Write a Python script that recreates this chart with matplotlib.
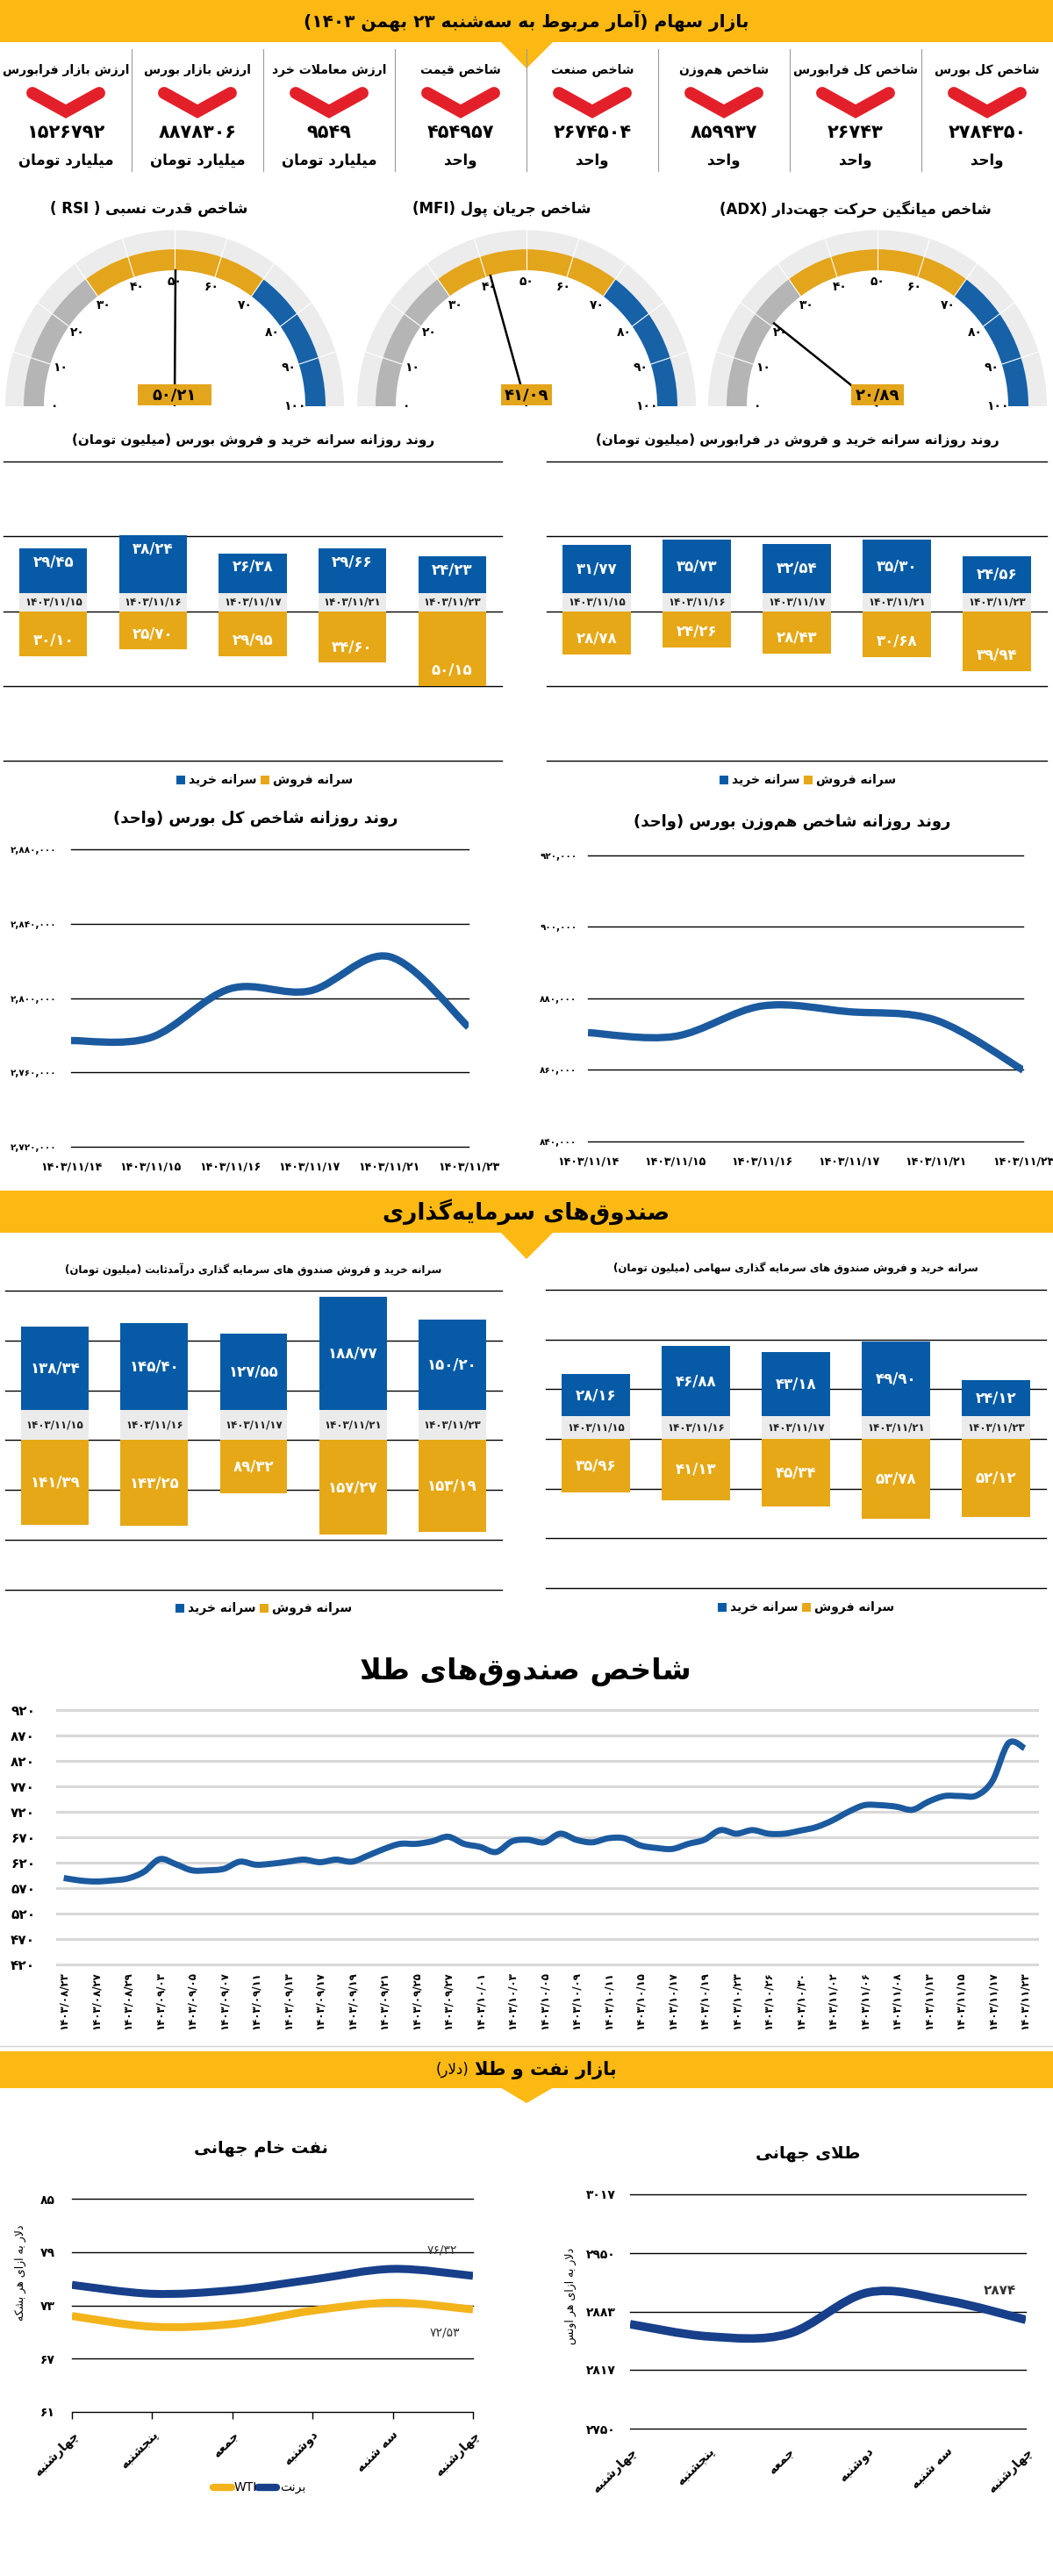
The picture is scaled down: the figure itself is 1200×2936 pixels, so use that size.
import numpy as np
import matplotlib
matplotlib.use("Agg")
import matplotlib.pyplot as plt
from matplotlib.patches import Rectangle, Polygon, Wedge, PathPatch
from matplotlib.path import Path

plt.rcParams['font.family'] = ['DejaVu Sans']

# ---------------- data ----------------
stat_labels = ['شاخص کل بورس', 'شاخص کل فرابورس', 'شاخص هم‌وزن', 'شاخص صنعت',
               'شاخص قیمت', 'ارزش معاملات خرد', 'ارزش بازار بورس', 'ارزش بازار فرابورس']
stat_values = [2784350, 26743, 859937, 2674504, 454957, 9549, 8878306, 1526792]
stat_units = ['واحد', 'واحد', 'واحد', 'واحد', 'واحد',
              'میلیارد تومان', 'میلیارد تومان', 'میلیارد تومان']

gauge_titles = ['شاخص قدرت نسبی ( RSI )', 'شاخص جریان پول (MFI)', 'شاخص میانگین حرکت جهت‌دار (ADX)']
gauge_values = [50.21, 41.09, 20.89]

dates5 = ['1403/11/15', '1403/11/16', '1403/11/17', '1403/11/21', '1403/11/23']
bourse_buy = [29.45, 38.24, 26.38, 29.66, 24.23]
bourse_sell = [30.10, 25.70, 29.95, 34.60, 50.15]
fara_buy = [31.77, 35.73, 32.54, 35.30, 24.56]
fara_sell = [28.78, 24.26, 28.43, 30.68, 39.94]
fixed_buy = [138.34, 145.40, 127.55, 188.77, 150.20]
fixed_sell = [141.39, 143.25, 89.32, 157.27, 153.19]
equity_buy = [28.16, 46.88, 43.18, 49.90, 24.12]
equity_sell = [35.96, 41.13, 45.34, 53.78, 52.12]

idx_dates = ['1403/11/14', '1403/11/15', '1403/11/16', '1403/11/17', '1403/11/21', '1403/11/23']
total_index = [2777100, 2778700, 2805000, 2803800, 2822300, 2784350]
equal_index = [870450, 869400, 877900, 876300, 873900, 859937]

gold_fund = [590, 585, 583, 585, 589, 602, 627, 617, 605, 605, 608, 622, 616, 618, 622,
             626, 621, 626, 622, 634, 647, 657, 657, 662, 671, 657, 651, 641, 662, 665,
             660, 677, 665, 660, 668, 668, 654, 649, 647, 657, 665, 684, 677, 684, 677,
             677, 683, 690, 703, 720, 733, 733, 730, 724, 740, 751, 751, 752, 781, 855, 845]
gold_dates = ['1403/08/23', '1403/08/27', '1403/08/29', '1403/09/03', '1403/09/05', '1403/09/07',
              '1403/09/11', '1403/09/13', '1403/09/17', '1403/09/19', '1403/09/21', '1403/09/25',
              '1403/09/27', '1403/10/01', '1403/10/03', '1403/10/05', '1403/10/09', '1403/10/11',
              '1403/10/15', '1403/10/17', '1403/10/19', '1403/10/23', '1403/10/26', '1403/10/30',
              '1403/11/02', '1403/11/06', '1403/11/08', '1403/11/13', '1403/11/15', '1403/11/17',
              '1403/11/23']

week_days = ['چهارشنبه', 'پنجشنبه', 'جمعه', 'دوشنبه', 'سه شنبه', 'چهارشنبه']
brent = [75.3, 74.3, 74.7, 75.9, 77.1, 76.32]
wti = [71.8, 70.6, 70.9, 72.4, 73.3, 72.53]
gold_world = [2869, 2855, 2858, 2905, 2896, 2874]

# ---------------- colours ----------------
YELLOW = '#fdb913'
BLUE = '#075ba6'
GOLD = '#e6a817'
NAVY = '#173f8a'
LBLUE = '#1b5a9e'
RED = '#e3202a'
OILY = '#f3b31b'

# ---------------- persian text helpers ----------------
FORMS = {
    'ا': (0xFE8D, 0xFE8E, None, None), 'آ': (0xFE81, 0xFE82, None, None),
    'ب': (0xFE8F, 0xFE90, 0xFE91, 0xFE92), 'پ': (0xFB56, 0xFB57, 0xFB58, 0xFB59),
    'ت': (0xFE95, 0xFE96, 0xFE97, 0xFE98), 'ث': (0xFE99, 0xFE9A, 0xFE9B, 0xFE9C),
    'ج': (0xFE9D, 0xFE9E, 0xFE9F, 0xFEA0), 'چ': (0xFB7A, 0xFB7B, 0xFB7C, 0xFB7D),
    'ح': (0xFEA1, 0xFEA2, 0xFEA3, 0xFEA4), 'خ': (0xFEA5, 0xFEA6, 0xFEA7, 0xFEA8),
    'د': (0xFEA9, 0xFEAA, None, None), 'ذ': (0xFEAB, 0xFEAC, None, None),
    'ر': (0xFEAD, 0xFEAE, None, None), 'ز': (0xFEAF, 0xFEB0, None, None),
    'ژ': (0xFB8A, 0xFB8B, None, None),
    'س': (0xFEB1, 0xFEB2, 0xFEB3, 0xFEB4), 'ش': (0xFEB5, 0xFEB6, 0xFEB7, 0xFEB8),
    'ص': (0xFEB9, 0xFEBA, 0xFEBB, 0xFEBC), 'ض': (0xFEBD, 0xFEBE, 0xFEBF, 0xFEC0),
    'ط': (0xFEC1, 0xFEC2, 0xFEC3, 0xFEC4), 'ظ': (0xFEC5, 0xFEC6, 0xFEC7, 0xFEC8),
    'ع': (0xFEC9, 0xFECA, 0xFECB, 0xFECC), 'غ': (0xFECD, 0xFECE, 0xFECF, 0xFED0),
    'ف': (0xFED1, 0xFED2, 0xFED3, 0xFED4), 'ق': (0xFED5, 0xFED6, 0xFED7, 0xFED8),
    'ک': (0xFB8E, 0xFB8F, 0xFB90, 0xFB91), 'گ': (0xFB92, 0xFB93, 0xFB94, 0xFB95),
    'ل': (0xFEDD, 0xFEDE, 0xFEDF, 0xFEE0), 'م': (0xFEE1, 0xFEE2, 0xFEE3, 0xFEE4),
    'ن': (0xFEE5, 0xFEE6, 0xFEE7, 0xFEE8), 'ه': (0xFEE9, 0xFEEA, 0xFEEB, 0xFEEC),
    'و': (0xFEED, 0xFEEE, None, None), 'ی': (0xFBFC, 0xFBFD, 0xFBFE, 0xFBFF),
}
LTR = set('0123456789۰۱۲۳۴۵۶۷۸۹/.,%ABCDEFGHIJKLMNOPQRSTUVWXYZabcdefghijklmnopqrstuvwxyz')
MIRROR = {'(': ')', ')': '('}


def dual(c):
    return c in FORMS and FORMS[c][2] is not None


def shape(s):
    out = []
    i = 0
    while i < len(s):
        c = s[i]
        if c not in FORMS:
            if c != '\u200c':
                out.append(c)
            i += 1
            continue
        jp = i > 0 and dual(s[i - 1])
        if c == 'ل' and i + 1 < len(s) and s[i + 1] in 'اآ':
            iso, fin = (0xFEFB, 0xFEFC) if s[i + 1] == 'ا' else (0xFEF5, 0xFEF6)
            out.append(chr(fin if jp else iso))
            i += 2
            continue
        jn = dual(c) and i + 1 < len(s) and s[i + 1] in FORMS
        f = FORMS[c]
        g = f[3] if (jp and jn) else f[1] if jp else f[2] if jn else f[0]
        out.append(chr(g))
        i += 1
    return out


def rtl(s):
    if not any(c in FORMS for c in s):
        return s
    runs = []
    for c in shape(s):
        l = c in LTR
        if runs and runs[-1][0] == l:
            runs[-1][1].append(c)
        else:
            runs.append([l, [c]])
    res = []
    for l, cs in reversed(runs):
        res.extend(cs if l else [MIRROR.get(c, c) for c in reversed(cs)])
    return ''.join(res)


def fa(s):
    return str(s).translate(str.maketrans('0123456789', '۰۱۲۳۴۵۶۷۸۹'))


def dec(v):
    return fa(f"{v:.2f}".replace('.', '/'))


# ---------------- figure ----------------
W, H = 1200, 2936
fig = plt.figure(figsize=(W / 100, H / 100), dpi=100)
fig.patch.set_facecolor('white')
bg = fig.add_axes([0, 0, 1, 1])
bg.set_xlim(0, W)
bg.set_ylim(H, 0)
bg.axis('off')


def ax_px(x0, y0, x1, y1):
    ax = fig.add_axes([x0 / W, 1 - y1 / H, (x1 - x0) / W, (y1 - y0) / H])
    ax.set_facecolor('none')
    return ax


def T(x, y, s, size, weight='bold', color='black', ha='center', va='center', rot=0):
    return bg.text(x, y, rtl(s), fontsize=size, fontweight=weight, color=color,
                   ha=ha, va=va, rotation=rot)


def smooth(ax, xs, ys, color, lw):
    p = np.column_stack([xs, ys]).astype(float)
    n = len(p)
    verts, codes = [p[0]], [Path.MOVETO]
    for i in range(n - 1):
        p0, p1, p2, p3 = p[max(i - 1, 0)], p[i], p[i + 1], p[min(i + 2, n - 1)]
        verts += [p1 + (p2 - p0) / 6, p2 - (p3 - p1) / 6, p2]
        codes += [Path.CURVE4] * 3
    ax.add_patch(PathPatch(Path(verts, codes), fill=False, edgecolor=color, lw=lw,
                           capstyle='butt', joinstyle='round', zorder=3))


def band(y0, y1, tip, text=None, size=17):
    bg.add_patch(Rectangle((0, y0), W, y1 - y0, color=YELLOW, lw=0))
    bg.add_patch(Polygon([(570, y1 - 1), (631, y1 - 1), (600, tip)], color=YELLOW, lw=0))
    if text:
        T(600, (y0 + y1) / 2, text, size)


# ---- header + stat boxes ----
band(0, 48, 78, 'بازار سهام (آمار مربوط به سه‌شنبه ۲۳ بهمن ۱۴۰۳)', 14.5)
for k in range(1, 8):
    bg.plot([150 * k, 150 * k], [56, 195], color='#9a9a9a', lw=0.8)
for i, (lab, val, unit) in enumerate(zip(stat_labels, stat_values, stat_units)):
    cx = 1125 - 150 * i
    T(cx, 80, lab, 10)
    bg.plot([cx - 38, cx, cx + 38], [106, 127, 106], color=RED, lw=10,
            solid_capstyle='round', solid_joinstyle='miter')
    T(cx, 151, fa(val), 15)
    T(cx, 183, unit, 12)

# ---- gauges ----
def ang(v):
    return np.radians(180 - 1.8 * v)


for cx, tx, title, val, bw in zip([199, 600, 1000], [170, 572, 975], gauge_titles,
                                  gauge_values, [84, 58, 60]):
    T(tx, 238, title, 12)
    ax = ax_px(cx - 205, 255, cx + 205, 468)
    ax.set_xlim(-205, 205)
    ax.set_ylim(-4.8, 200)
    ax.axis('off')
    ax.add_patch(Wedge((0, 0), 193, 0, 180, width=21, color='#ececec', lw=0))
    for (a, b), c in zip([(0, 30), (30, 70), (70, 100)], ['#b5b5b5', '#e3a51c', '#1761a7']):
        ax.add_patch(Wedge((0, 0), 172, np.degrees(ang(b)), np.degrees(ang(a)),
                           width=23, color=c, lw=0))
    for v in range(10, 100, 10):
        t = ang(v)
        ax.plot([149 * np.cos(t), 193 * np.cos(t)], [149 * np.sin(t), 193 * np.sin(t)],
                color='white', lw=0.8)
    for v in range(0, 101, 10):
        t = ang(v)
        ax.text(137 * np.cos(t), 137 * np.sin(t), fa(v), ha='center', va='center',
                fontsize=10, fontweight='bold')
    t = ang(val)
    ax.plot([0, 150 * np.cos(t)], [0, 150 * np.sin(t)], color='black', lw=1.8,
            solid_capstyle='butt', zorder=4)
    ax.add_patch(Rectangle((-bw / 2, 0.5), bw, 23.5, color='#e3a51c', lw=0, zorder=5))
    ax.text(0, 12.5, dec(val), ha='center', va='center', fontsize=13,
            fontweight='bold', zorder=6)


# ---- buy / sell per capita charts ----
def legend(cx, y):
    bg.add_patch(Rectangle((cx - 91, y - 5), 10, 10, color=BLUE, lw=0))
    T(cx - 77, y, 'سرانه خرید', 10, ha='left')
    bg.add_patch(Rectangle((cx + 5, y - 5), 10, 10, color=GOLD, lw=0))
    T(cx + 19, y, 'سرانه فروش', 10, ha='left')


def buysell(box, lim, nlines, bnd, buy, sell, bmode, title, tx, ty, tsize, leg):
    T(tx, ty, title, tsize)
    ax = ax_px(*box)
    ax.set_xlim(-0.5, 4.5)
    ax.set_ylim(-lim, lim)
    ax.axis('off')
    for yv in np.linspace(-lim, lim, nlines):
        ax.axhline(yv, color='black', lw=1, clip_on=False, zorder=1)
    xs = np.arange(len(buy))
    ax.bar(xs, -np.array(sell), width=0.68, color=GOLD, zorder=2)
    ax.bar(xs, buy, bottom=bnd, width=0.68, color=BLUE, zorder=2)
    ax.bar(xs, bnd, width=0.68, color='#ebebeb', zorder=2)
    kw = dict(ha='center', va='center', color='white', fontsize=12, fontweight='bold', zorder=4)
    for x, d, b, s in zip(xs, dates5, buy, sell):
        ax.text(x, bnd / 2, fa(d), ha='center', va='center', fontsize=8.5,
                fontweight='bold', color='#222222', zorder=4)
        if bmode == 'top':
            ax.annotate(dec(b), (x, bnd + b), xytext=(0, -11), textcoords='offset points', **kw)
        else:
            ax.text(x, bnd + b / 2, dec(b), **kw)
        if bmode == 'center':
            ax.text(x, -s / 2, dec(s), **kw)
        else:
            ax.annotate(dec(s), (x, -s), xytext=(0, 13), textcoords='offset points', **kw)
    legend(*leg)


buysell((4, 526, 572, 867), 100, 5, 12.3, bourse_buy, bourse_sell, 'top',
        'روند روزانه سرانه خرید و فروش بورس (میلیون تومان)', 289, 502, 11, (292, 889))
buysell((623, 526, 1193, 867), 100, 5, 12.3, fara_buy, fara_sell, 'mid',
        'روند روزانه سرانه خرید و فروش در فرابورس (میلیون تومان)', 909, 502, 11, (911, 889))


# ---- index line charts ----
def line_axes(box, ylim, yticks, ylabels, xlabels, ypad, xpad, yfs, xfs):
    ax = ax_px(*box)
    ax.set_xlim(0, len(xlabels) - 1)
    ax.set_ylim(*ylim)
    for s in ax.spines.values():
        s.set_visible(False)
    ax.set_yticks(yticks, ylabels, fontsize=yfs, fontweight='bold')
    ax.set_xticks(range(len(xlabels)), xlabels, fontsize=xfs, fontweight='bold')
    ax.tick_params(axis='y', length=0, pad=ypad)
    ax.tick_params(axis='x', length=0, pad=xpad)
    for yv in yticks:
        ax.axhline(yv, color='black', lw=1, clip_on=False, zorder=1)
    return ax


T(291, 933, 'روند روزانه شاخص کل بورس (واحد)', 13)
ticks = [2720000, 2760000, 2800000, 2840000, 2880000]
ax = line_axes((81, 968, 534, 1307), (2720000, 2880000), ticks,
               [fa(f"{t:,}") for t in ticks], [fa(d) for d in idx_dates], 12, 12, 7.5, 9)
smooth(ax, range(len(total_index)), total_index, LBLUE, 6)

T(903, 937, 'روند روزانه شاخص هم‌وزن بورس (واحد)', 13)
ticks = [840000, 860000, 880000, 900000, 920000]
ax = line_axes((670, 975, 1166, 1301), (840000, 920000), ticks,
               [fa(f"{t:,}") for t in ticks], [fa(d) for d in idx_dates], 9, 12, 7.5, 9)
smooth(ax, range(len(equal_index)), equal_index, LBLUE, 6)

# ---- investment funds ----
band(1357, 1405, 1435, 'صندوق‌های سرمایه‌گذاری', 19)
buysell((6, 1471, 572, 1812), 250, 7, 51, fixed_buy, fixed_sell, 'center',
        'سرانه خرید و فروش صندوق های سرمایه گذاری درآمدثابت (میلیون تومان)', 289, 1447, 8.5,
        (291, 1833))
buysell((622, 1470, 1192, 1810), 100, 7, 15.2, equity_buy, equity_sell, 'center',
        'سرانه خرید و فروش صندوق های سرمایه گذاری سهامی (میلیون تومان)', 907, 1446, 8.5,
        (909, 1832))

# ---- gold funds index ----
T(599, 1905, 'شاخص صندوق‌های طلا', 24)
ax = ax_px(65, 1949, 1182, 2239)
ax.set_xlim(-0.42, len(gold_fund) - 0.21)
ax.set_ylim(420, 920)
for s in ax.spines.values():
    s.set_visible(False)
gt = list(range(420, 921, 50))
ax.set_yticks(gt, [fa(t) for t in gt], fontsize=11, fontweight='bold')
ax.set_xticks(range(0, len(gold_fund), 2), [fa(d) for d in gold_dates],
              fontsize=8.5, fontweight='bold', rotation=90, va='top')
ax.tick_params(axis='y', length=0, pad=38)
ax.tick_params(axis='x', length=0, pad=6)
for lab in ax.get_yticklabels():
    lab.set_ha('left')
for yv in gt:
    ax.axhline(yv, color='#d8d8d8', lw=2.2, clip_on=False, zorder=1)
smooth(ax, range(len(gold_fund)), gold_fund, LBLUE, 5)

# ---- oil & gold ----
bg.plot([0, W], [2332, 2332], color='#d5d5d5', lw=1)
band(2338, 2380, 2397)
head = T(703, 2359, 'بازار نفت و طلا', 15, ha='right')
bg.annotate(rtl('(دلار)'), xy=(0, 0.5), xycoords=head, xytext=(-5, 0),
            textcoords='offset points', ha='right', va='center', fontsize=12)

T(297, 2448, 'نفت خام جهانی', 14)
ot = [61, 67, 73, 79, 85]
ax = line_axes((82, 2506, 539, 2749), (61, 85), ot, [fa(t) for t in ot],
               [rtl(d) for d in week_days], 14, 12, 10, 10)
ax.tick_params(axis='x', length=6, width=1, color='black', direction='out', pad=8)
for lab in ax.get_xticklabels():
    lab.set_rotation(45)
    lab.set_ha('right')
    lab.set_va('top')
    lab.set_rotation_mode('anchor')
smooth(ax, range(len(brent)), brent, NAVY, 6.5)
smooth(ax, range(len(wti)), wti, OILY, 6.5)
ax.annotate(dec(brent[-1]), (5, brent[-1]), xytext=(-25, 21), textcoords='offset points',
            ha='center', va='center', fontsize=10, color='#333333')
ax.annotate(dec(wti[-1]), (5, wti[-1]), xytext=(-23, -19), textcoords='offset points',
            ha='center', va='center', fontsize=10, color='#333333')
T(23, 2590, 'دلار به ازای هر بشکه', 9, weight='normal', rot=90)
bg.plot([243, 264], [2835, 2835], color=OILY, lw=6, solid_capstyle='round')
T(267, 2835, 'WTI', 10, ha='left', weight='normal')
bg.plot([294, 315], [2835, 2835], color=NAVY, lw=6, solid_capstyle='round')
T(319, 2835, 'برنت', 10, ha='left', weight='normal')

T(921, 2455, 'طلای جهانی', 14)
gw = [2750, 2817, 2883, 2950, 3017]
ax = line_axes((718, 2501, 1169, 2768), (2750, 3017), gw, [fa(t) for t in gw],
               [rtl(d) for d in week_days], 12, 14, 10, 10)
for lab in ax.get_xticklabels():
    lab.set_rotation(45)
    lab.set_ha('right')
    lab.set_va('top')
    lab.set_rotation_mode('anchor')
smooth(ax, range(len(gold_world)), gold_world, NAVY, 7)
ax.annotate(fa(gold_world[-1]), (5, gold_world[-1]), xytext=(-21, 24),
            textcoords='offset points', ha='center', va='center', fontsize=11,
            fontweight='bold', color='#333333')
T(650, 2617, 'دلار به ازای هر اونس', 9, weight='normal', rot=90)

fig.savefig('out.png', dpi=100)
